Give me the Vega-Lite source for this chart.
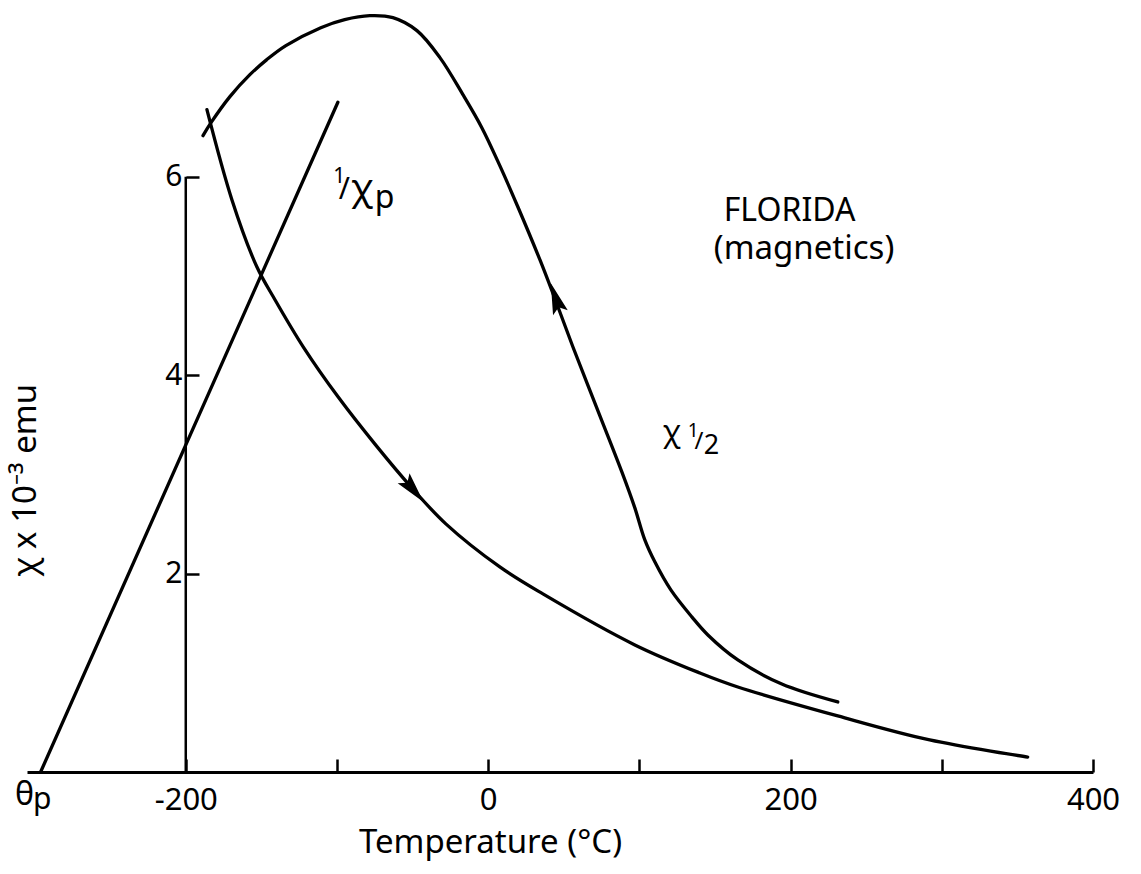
{
  "$schema": "https://vega.github.io/schema/vega-lite/v6.json",
  "width": 1066,
  "height": 764,
  "autosize": {"type": "none"},
  "padding": {"left": 27, "top": 8, "right": 48, "bottom": 102},
  "background": "white",
  "config": {"view": {"stroke": null}, "font": "Noto Sans", "text": {"color": "black", "font": "Noto Sans"}},
  "datasets": {
    "curves": [
      {"series": "1/χp", "T": -296, "v": 0},
      {"series": "1/χp", "T": -99.4, "v": 6.75},

      {"series": "χ", "T": -186.0, "v": 6.675},
      {"series": "χ", "T": -169.5, "v": 5.768},
      {"series": "χ", "T": -153.0, "v": 5.092},
      {"series": "χ", "T": -141.0, "v": 4.76},
      {"series": "χ", "T": -121.9, "v": 4.275},
      {"series": "χ", "T": -98.8, "v": 3.771},
      {"series": "χ", "T": -75.0, "v": 3.307},
      {"series": "χ", "T": -51.1, "v": 2.874},
      {"series": "χ", "T": -28.0, "v": 2.501},
      {"series": "χ", "T": 7.7, "v": 2.067},
      {"series": "χ", "T": 36.2, "v": 1.795},
      {"series": "χ", "T": 97.0, "v": 1.281},
      {"series": "χ", "T": 140.0, "v": 0.998},
      {"series": "χ", "T": 165.1, "v": 0.857},
      {"series": "χ", "T": 231.2, "v": 0.565},
      {"series": "χ", "T": 292.0, "v": 0.323},
      {"series": "χ", "T": 356.8, "v": 0.151},

      {"series": "χ½", "T": -188.6, "v": 6.413},
      {"series": "χ½", "T": -183.3, "v": 6.544},
      {"series": "χ½", "T": -170.8, "v": 6.807},
      {"series": "χ½", "T": -157.6, "v": 7.028},
      {"series": "χ½", "T": -146.4, "v": 7.18},
      {"series": "χ½", "T": -133.8, "v": 7.321},
      {"series": "χ½", "T": -110.7, "v": 7.502},
      {"series": "χ½", "T": -94.9, "v": 7.583},
      {"series": "χ½", "T": -78.3, "v": 7.623},
      {"series": "χ½", "T": -63.0, "v": 7.603},
      {"series": "χ½", "T": -47.1, "v": 7.472},
      {"series": "χ½", "T": -31.9, "v": 7.2},
      {"series": "χ½", "T": -16.7, "v": 6.827},
      {"series": "χ½", "T": -4.2, "v": 6.494},
      {"series": "χ½", "T": 7.7, "v": 6.111},
      {"series": "χ½", "T": 19.6, "v": 5.697},
      {"series": "χ½", "T": 34.2, "v": 5.163},
      {"series": "χ½", "T": 43.4, "v": 4.8},
      {"series": "χ½", "T": 56.0, "v": 4.286},
      {"series": "χ½", "T": 73.9, "v": 3.59},
      {"series": "χ½", "T": 88.4, "v": 3.025},
      {"series": "χ½", "T": 97.0, "v": 2.662},
      {"series": "χ½", "T": 103.6, "v": 2.339},
      {"series": "χ½", "T": 110.2, "v": 2.118},
      {"series": "χ½", "T": 120.8, "v": 1.835},
      {"series": "χ½", "T": 134.7, "v": 1.563},
      {"series": "χ½", "T": 145.3, "v": 1.381},
      {"series": "χ½", "T": 165.1, "v": 1.129},
      {"series": "χ½", "T": 194.2, "v": 0.887},
      {"series": "χ½", "T": 231.2, "v": 0.706}
    ]
  },
  "layer": [
    {
      "data": {"name": "curves"},
      "mark": {"type": "line", "interpolate": "catmull-rom", "color": "black", "strokeWidth": 3.3, "strokeCap": "round", "clip": false},
      "encoding": {
        "x": {
          "field": "T", "type": "quantitative",
          "scale": {"domain": [-305, 400], "nice": false, "zero": false},
          "axis": {
            "values": [-200, -100, 0, 100, 200, 300, 400],
            "labelExpr": "datum.value % 200 === 0 ? toString(datum.value) : ''",
            "grid": false,
            "domainColor": "black", "domainWidth": 3,
            "tickColor": "black", "tickWidth": 2.5, "tickSize": -13,
            "labelFont": "Noto Sans", "labelFontSize": 31, "labelColor": "black", "labelPadding": 26,
            "labelFlush": false, "labelOverlap": false,
            "title": "Temperature (°C)", "titleFont": "Noto Sans", "titleFontSize": 33, "titleFontWeight": "normal", "titleColor": "black",
            "titleX": 463, "titleY": 80, "titleAlign": "center", "titleBaseline": "alphabetic"
          }
        },
        "y": {
          "field": "v", "type": "quantitative",
          "scale": {"domain": [0, 7.7], "nice": false, "zero": false},
          "axis": {
            "values": [2, 4, 6],
            "format": "d",
            "offset": -159,
            "domain": false,
            "grid": false,
            "tickColor": "black", "tickWidth": 2.5, "tickSize": -13,
            "labelFont": "Noto Sans", "labelFontSize": 30, "labelColor": "black", "labelPadding": 17,
            "title": "χ x 10⁻³ emu", "titleFont": "Noto Sans", "titleFontSize": 33, "titleFontWeight": "normal", "titleColor": "black",
            "titleAngle": -90, "titleX": -151, "titleY": 472, "titleAlign": "center", "titleBaseline": "alphabetic"
          }
        },
        "detail": {"field": "series"}
      }
    },
    {
      "data": {"values": [{}]},
      "mark": {"type": "rule", "color": "black", "strokeWidth": 2.5},
      "encoding": {
        "x": {"datum": -200, "type": "quantitative"},
        "y": {"datum": 0, "type": "quantitative"},
        "y2": {"datum": 6}
      }
    },
    {
      "data": {"values": [{}]},
      "mark": {"type": "point", "shape": "M0,-1L0.4,0.6L0,0.3L-0.4,0.6Z", "filled": true, "color": "black", "opacity": 1, "size": 1500, "angle": 140},
      "encoding": {
        "x": {"datum": -51, "type": "quantitative"},
        "y": {"datum": 2.87, "type": "quantitative"}
      }
    },
    {
      "data": {"values": [{}]},
      "mark": {"type": "point", "shape": "M0,-1L0.4,0.6L0,0.3L-0.4,0.6Z", "filled": true, "color": "black", "opacity": 1, "size": 1500, "angle": 342},
      "encoding": {
        "x": {"datum": 45.4, "type": "quantitative"},
        "y": {"datum": 4.74, "type": "quantitative"}
      }
    },
    {
      "data": {"values": [{}]},
      "mark": {"type": "text", "text": "FLORIDA", "fontSize": 32, "align": "left", "baseline": "alphabetic"},
      "encoding": {"x": {"datum": 155.8, "type": "quantitative"}, "y": {"datum": 5.55, "type": "quantitative"}}
    },
    {
      "data": {"values": [{}]},
      "mark": {"type": "text", "text": "(magnetics)", "fontSize": 33, "align": "left", "baseline": "alphabetic"},
      "encoding": {"x": {"datum": 149.2, "type": "quantitative"}, "y": {"datum": 5.17, "type": "quantitative"}}
    },
    {
      "data": {"values": [{}]},
      "mark": {"type": "text", "text": "1", "fontSize": 21, "align": "left", "baseline": "alphabetic"},
      "encoding": {"x": {"datum": -102.5, "type": "quantitative"}, "y": {"datum": 5.94, "type": "quantitative"}}
    },
    {
      "data": {"values": [{}]},
      "mark": {"type": "text", "text": "/", "fontSize": 30, "align": "left", "baseline": "alphabetic"},
      "encoding": {"x": {"datum": -98.8, "type": "quantitative"}, "y": {"datum": 5.77, "type": "quantitative"}}
    },
    {
      "data": {"values": [{}]},
      "mark": {"type": "text", "text": "χ", "fontSize": 37, "align": "left", "baseline": "alphabetic"},
      "encoding": {"x": {"datum": -90.8, "type": "quantitative"}, "y": {"datum": 5.76, "type": "quantitative"}}
    },
    {
      "data": {"values": [{}]},
      "mark": {"type": "text", "text": "p", "fontSize": 32, "align": "left", "baseline": "alphabetic"},
      "encoding": {"x": {"datum": -75.0, "type": "quantitative"}, "y": {"datum": 5.68, "type": "quantitative"}}
    },
    {
      "data": {"values": [{}]},
      "mark": {"type": "text", "text": "χ", "fontSize": 30, "align": "left", "baseline": "alphabetic"},
      "encoding": {"x": {"datum": 115.5, "type": "quantitative"}, "y": {"datum": 3.33, "type": "quantitative"}}
    },
    {
      "data": {"values": [{}]},
      "mark": {"type": "text", "text": "1", "fontSize": 19, "align": "left", "baseline": "alphabetic"},
      "encoding": {"x": {"datum": 132.0, "type": "quantitative"}, "y": {"datum": 3.38, "type": "quantitative"}}
    },
    {
      "data": {"values": [{}]},
      "mark": {"type": "text", "text": "/", "fontSize": 24, "align": "left", "baseline": "alphabetic"},
      "encoding": {"x": {"datum": 136.5, "type": "quantitative"}, "y": {"datum": 3.26, "type": "quantitative"}}
    },
    {
      "data": {"values": [{}]},
      "mark": {"type": "text", "text": "2", "fontSize": 27, "align": "left", "baseline": "alphabetic"},
      "encoding": {"x": {"datum": 142.5, "type": "quantitative"}, "y": {"datum": 3.2, "type": "quantitative"}}
    },
    {
      "data": {"values": [{}]},
      "mark": {"type": "text", "text": "θ", "fontSize": 32, "align": "left", "baseline": "alphabetic"},
      "encoding": {"x": {"datum": -313.0, "type": "quantitative"}, "y": {"datum": -0.33, "type": "quantitative"}}
    },
    {
      "data": {"values": [{}]},
      "mark": {"type": "text", "text": "p", "fontSize": 30, "align": "left", "baseline": "alphabetic"},
      "encoding": {"x": {"datum": -301.0, "type": "quantitative"}, "y": {"datum": -0.37, "type": "quantitative"}}
    }
  ]
}
